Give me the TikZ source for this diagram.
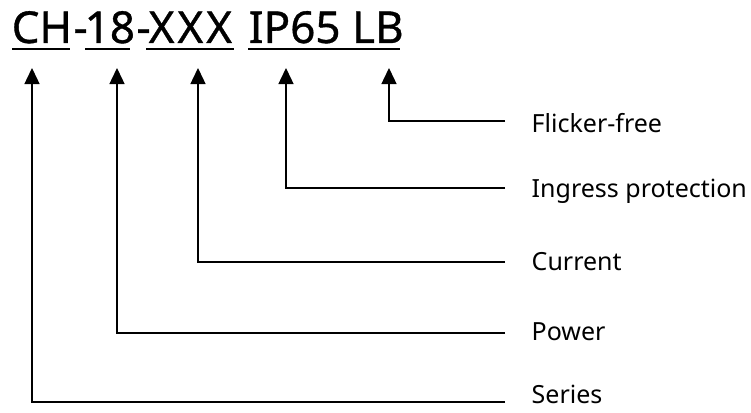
\documentclass[tikz,border=0pt]{standalone}
\usepackage{fontspec}
\setmainfont{Noto Sans}
\newfontfamily\codefont[FakeBold=0.8]{Noto Sans}
\usetikzlibrary{arrows.meta}

\begin{document}
\begin{tikzpicture}[x=1pt,y=-1pt,line width=1.4pt,
	code/.style={anchor=base west,inner sep=0pt,font=\codefont\fontsize{44}{44}\selectfont},
	lbl/.style={anchor=west,inner sep=0pt,font=\fontsize{25}{25}\selectfont},
	arr/.style={-{Triangle[width=15pt,length=16pt]}}]
				  \useasboundingbox (0,0) rectangle (751,412);
				  %CODE
				  \node[code] (ch) at (11,43) {CH};
				  \node[code] (d1) at (ch.base east) {-};
				  \node[code] (pw) at (84,43) {18};
				  \node[code] (d2) at (pw.base east) {-};
				  \node[code] (cu) at (148,43) {X\hspace{3pt}X\hspace{3pt}X};
				  \node[code] (ip) at (248,43) {IP65 LB};
				  %UNDERLINES
				  \draw (12,49) -- (70,49);
				  \draw (85,49) -- (130,49);
				  \draw (146,49) -- (234,49);
				  \draw (248,49) -- (400,49);
				  %ARROW TIPS
				  \coordinate (tS) at (32,68);
				  \coordinate (tP) at (117,68);
				  \coordinate (tC) at (198,68);
				  \coordinate (tI) at (286,68);
				  \coordinate (tF) at (389,68);
				  %LINE ENDS
				  \coordinate (eF) at (505,121);
				  \coordinate (eI) at (505,188);
				  \coordinate (eC) at (505,262);
				  \coordinate (eP) at (505,333);
				  \coordinate (eS) at (505,402);
				  %LABELS
				  \node[lbl] (ff) at (531,123) {Flicker-free};
				  \node[lbl] (ig) at (531,191) {Ingress protection};
				  \node[lbl] (cr) at (531,262) {Current};
				  \node[lbl] (po) at (531,332) {Power};
				  \node[lbl] (se) at (531,394) {Series};
				  %CONNECTORS
				  \draw[arr] (eF) -| (tF);
				  \draw[arr] (eI) -| (tI);
				  \draw[arr] (eC) -| (tC);
				  \draw[arr] (eP) -| (tP);
				  \draw[arr] (eS) -| (tS);
\end{tikzpicture}
\end{document}
